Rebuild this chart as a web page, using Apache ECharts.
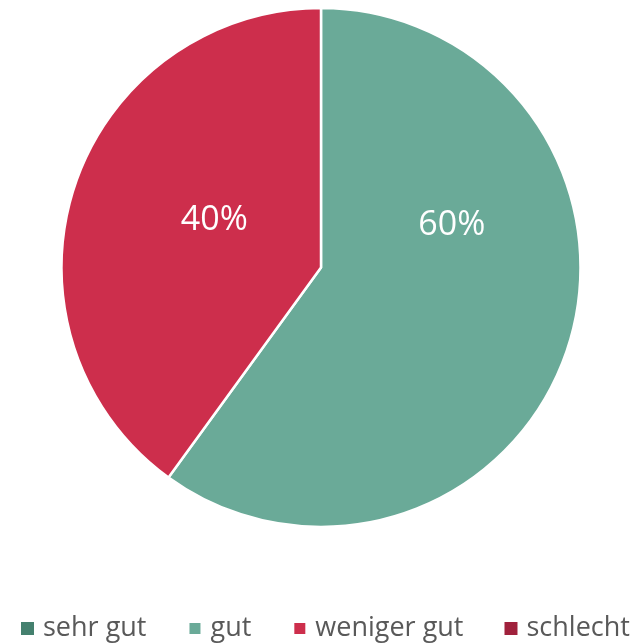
<!DOCTYPE html>
<html>
<head>
<meta charset="utf-8">
<script src="https://cdn.jsdelivr.net/npm/echarts@6/dist/echarts.min.js"></script>
<style>
  html, body { margin: 0; padding: 0; background: #ffffff; }
  #chart { width: 638px; height: 644px; }
</style>
</head>
<body>
<div id="chart"></div>
<script>
// Rating categories and their shares (percent)
const categories = ['sehr gut', 'gut', 'weniger gut', 'schlecht'];
const shares = [0, 60, 40, 0];
const colors = ['#44806e', '#6aaa98', '#cd2e4c', '#a0213c'];

// Pie geometry
const cx = 321, cy = 267.5, radius = 259.5;
// Label placement in polar terms: angle (deg, clockwise from 12 o'clock), fraction of radius
const labelPolar = { 'gut': [72, 0.53], 'weniger gut': [294, 0.45] };

const chart = echarts.init(document.getElementById('chart'), null, { renderer: 'canvas' });

chart.setOption({
  animation: false,
  color: colors,
  legend: {
    bottom: -3,
    left: 16,
    icon: 'rect',
    itemWidth: 13,
    itemHeight: 13,
    itemGap: 41,
    selectedMode: false,
    textStyle: { fontFamily: 'Open Sans', fontSize: 27, color: '#595959', padding: [0, 0, 0, 4] },
    data: categories
  },
  series: [{
    type: 'pie',
    center: [cx, cy],
    radius: [0, radius],
    startAngle: 90,
    clockwise: true,
    silent: true,
    itemStyle: { borderColor: '#ffffff', borderWidth: 2.5 },
    labelLine: { show: false },
    label: {
      show: true,
      position: 'inside',
      formatter: p => p.value > 0 ? p.value + '%' : '',
      color: '#ffffff',
      fontFamily: 'Open Sans',
      fontSize: 34
    },
    labelLayout: function (params) {
      const name = categories[params.dataIndex];
      const pos = labelPolar[name];
      if (!pos) return {};
      const a = pos[0] * Math.PI / 180;
      return {
        x: cx + Math.sin(a) * radius * pos[1],
        y: cy - Math.cos(a) * radius * pos[1],
        align: 'center',
        verticalAlign: 'middle'
      };
    },
    data: categories.map((c, i) => ({
      name: c,
      value: shares[i],
      itemStyle: shares[i] === 0 ? { borderWidth: 0 } : undefined
    }))
  }]
});
</script>
</body>
</html>
